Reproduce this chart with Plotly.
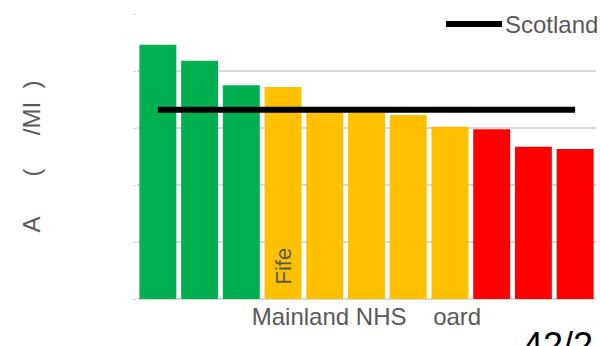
import plotly.graph_objects as go

# Mainland NHS boards, ranked from highest to lowest rate
boards = ["", "", "", "Fife", "", "", "", "", "", "", ""]
board_ids = [f"b{i + 1}" for i in range(len(boards))]
rates = [4.46, 4.18, 3.75, 3.72, 3.29, 3.27, 3.23, 3.02, 2.98, 2.67, 2.63]
bands = ["high", "high", "high", "mid", "mid", "mid", "mid", "mid", "low", "low", "low"]
scotland_rate = 3.32
page_label = "42/2"

band_colors = {"high": "#00B050", "mid": "#FFC000", "low": "#FF0000"}
grey_text = "#595959"
grid = "#D9D9D9"
FONT = "Liberation Sans, Arial, sans-serif"

W, H = 600, 346
ML, MR, MT, MB = 137, 4, 14, 47
PW, PH = W - ML - MR, H - MT - MB


def px_x(p):
    return (p - ML) / PW


def px_y(p):
    return (H - MB - p) / PH


fig = go.Figure()
fig.add_trace(go.Bar(
    x=board_ids, y=rates,
    marker=dict(color=[band_colors[b] for b in bands], line=dict(width=0)),
    showlegend=False, hoverinfo="skip",
))
fig.add_trace(go.Scatter(
    x=board_ids, y=[scotland_rate] * len(board_ids),
    mode="lines", line=dict(color="black", width=6),
    name="Scotland", showlegend=False, hoverinfo="skip",
))

# Board name written inside its bar
for bid, name in zip(board_ids, boards):
    if name:
        fig.add_annotation(
            x=bid, y=0, xref="x", yref="y", text=name, textangle=-90,
            xanchor="center", yanchor="bottom", yshift=12, showarrow=False,
            font=dict(family=FONT, size=22, color=grey_text),
        )

# Legend: white panel, line sample and label
fig.add_shape(type="rect", xref="paper", yref="paper",
              x0=px_x(434), x1=px_x(600), y0=px_y(40), y1=px_y(2),
              fillcolor="white", line=dict(width=0), layer="above")
fig.add_shape(type="line", xref="paper", yref="paper",
              x0=px_x(446), x1=px_x(502), y0=px_y(24), y1=px_y(24),
              line=dict(color="black", width=6), layer="above")
fig.add_annotation(x=px_x(503), y=px_y(24), xref="paper", yref="paper",
                   text="Scotland", xanchor="left", yanchor="middle", showarrow=False,
                   font=dict(family=FONT, size=24, color=grey_text))

# Page number at the foot
fig.add_annotation(x=px_x(521), y=px_y(323), xref="paper", yref="paper",
                   text=page_label, xanchor="left", yanchor="top", showarrow=False,
                   font=dict(family=FONT, size=36, color="black"))

nb = "\u00a0"
fig.update_layout(
    width=W, height=H,
    margin=dict(l=ML, r=MR, t=MT, b=MB),
    paper_bgcolor="white", plot_bgcolor="white",
    bargap=0.115,
    font=dict(family=FONT, color=grey_text),
    xaxis=dict(
        type="category", showticklabels=False, ticks="", showgrid=False,
        showline=False, zeroline=False,
        title=dict(text="Mainland NHS" + nb * 4 + "oard",
                   font=dict(family=FONT, size=24, color=grey_text), standoff=9),
    ),
    yaxis=dict(
        range=[0, 5], dtick=1, showticklabels=False,
        ticks="outside", ticklen=3, tickcolor=grid, tickwidth=1,
        showgrid=True, gridcolor=grid, gridwidth=2,
        zeroline=True, zerolinecolor=grid, zerolinewidth=2, showline=False,
        title=dict(text="A" + nb * 6 + "(" + nb * 5 + "/MI" + nb * 2 + ")" + nb,
                   font=dict(family=FONT, size=24, color=grey_text), standoff=85),
    ),
)

fig.write_html("out.html")
